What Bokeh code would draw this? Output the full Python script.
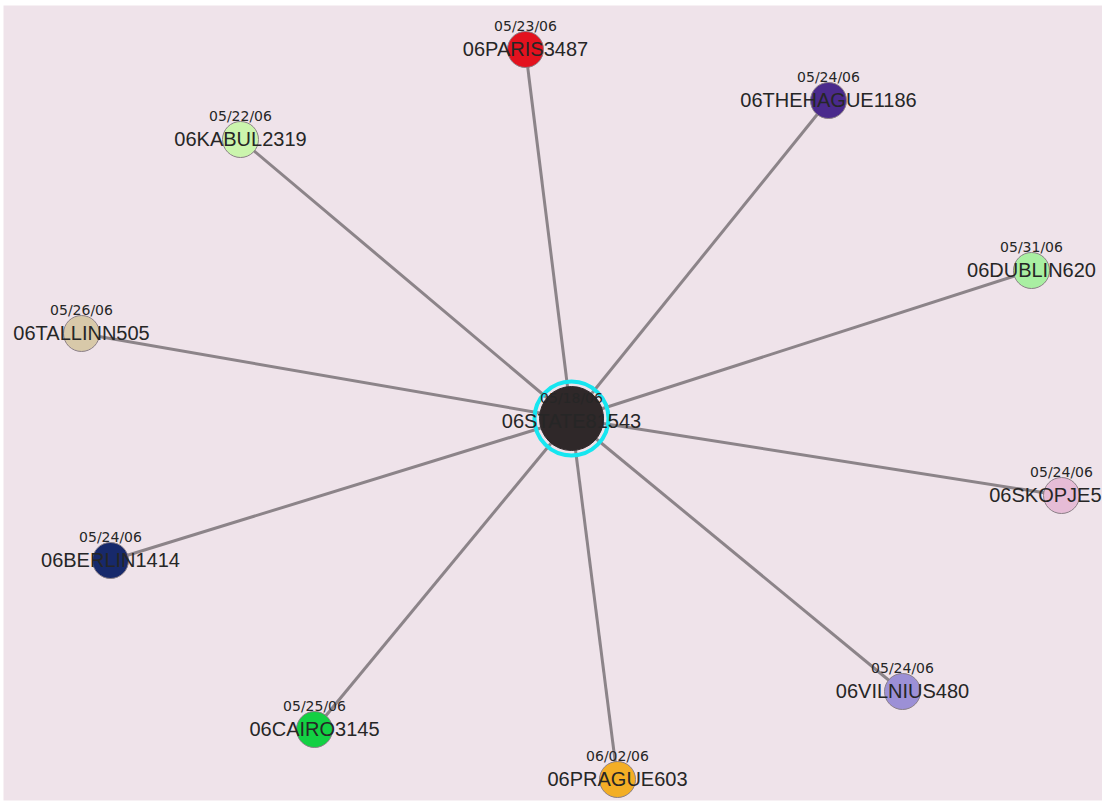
from bokeh.plotting import figure
from bokeh.models import Range1d, ColumnDataSource
from bokeh.embed import file_html
from bokeh.resources import INLINE
from bokeh.core.properties import value

# Nodes (cable IDs), dates, colours and layout positions (screen coords)
names = ["06PARIS3487", "06THEHAGUE1186", "06KABUL2319", "06DUBLIN620", "06TALLINN505",
         "06SKOPJE5", "06BERLIN1414", "06VILNIUS480", "06CAIRO3145", "06PRAGUE603"]
dates = ["05/23/06", "05/24/06", "05/22/06", "05/31/06", "05/26/06",
         "05/24/06", "05/24/06", "05/24/06", "05/25/06", "06/02/06"]
colors = ["#e3121e", "#4a2a8c", "#cbf5ad", "#a9efa2", "#d8c9a9",
          "#e6bcd6", "#17296b", "#9c90d6", "#13d043", "#f3ae25"]
node_x = [525, 828, 240, 1031, 81, 1061, 110, 902, 314, 617]
node_y = [49, 100, 139, 270, 333, 495, 560, 691, 729, 779]
label_align = ["center"] * 5 + ["right"] + ["center"] * 4

center_name = "06STATE81543"
center_date = "05/18/06"
center_x, center_y = 571, 418

BG = "#efe3ea"

p = figure(width=1102, height=803, output_backend="svg", toolbar_location=None,
           x_range=Range1d(3, 1102), y_range=Range1d(800, 5),
           min_border=0, min_border_left=3, min_border_top=5, min_border_bottom=3,
           background_fill_color=BG, border_fill_color="white",
           outline_line_color=None)
p.axis.visible = False
p.grid.visible = False

# edges
p.segment(x0=[center_x] * len(node_x), y0=[center_y] * len(node_y), x1=node_x, y1=node_y,
          line_color="#8c8489", line_width=3)

# outer nodes
name_x = [x if a == "center" else 1101 for x, a in zip(node_x, label_align)]
src = ColumnDataSource(dict(x=node_x, y=node_y, c=colors, name=names, date=dates,
                            nx=name_x, al=label_align,
                            ny=[v - 1 for v in node_y], dy=[v - 24 for v in node_y]))
p.scatter("x", "y", source=src, size=36, fill_color="c", line_color="#8a7f86", line_width=1)

# center node
p.scatter([center_x], [center_y], size=74, fill_color=None, line_color="#16e6f0", line_width=4)
p.scatter([center_x], [center_y], size=64, fill_color="#2f2829", line_color="#2f2829", line_width=1)

# labels
p.text("nx", "ny", text="name", source=src, text_align="al", text_baseline="middle",
       text_font=value("Liberation Sans"), text_font_size="20px", text_color="#262626")
p.text("x", "dy", text="date", source=src, text_align="center", text_baseline="middle",
       text_font=value("DejaVu Sans"), text_font_size="14px", text_color="#262626")
p.text([center_x], [center_y + 2], text=[center_name], text_align="center", text_baseline="middle",
       text_font=value("Liberation Sans"), text_font_size="20px", text_color="#262626")
p.text([center_x], [center_y - 21], text=[center_date], text_align="center", text_baseline="middle",
       text_font=value("DejaVu Sans"), text_font_size="14px", text_color="#262626")

open("out.html", "w").write(file_html(p, INLINE))
